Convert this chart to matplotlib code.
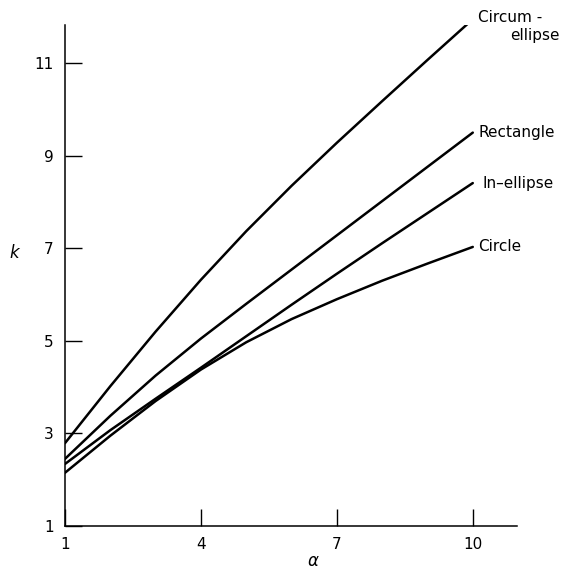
"""k versus a for four cross-section shapes."""

import matplotlib
matplotlib.use("Agg")
import matplotlib.pyplot as plt

a = [1, 2, 3, 4, 5, 6, 7, 8, 9, 10]
k_circum = [2.79, 4.02, 5.2, 6.32, 7.37, 8.35, 9.28, 10.18, 11.07, 11.95]
k_rect = [2.45, 3.38, 4.25, 5.05, 5.8, 6.54, 7.28, 8.02, 8.76, 9.5]
k_inell = [2.34, 3.07, 3.75, 4.42, 5.1, 5.78, 6.45, 7.11, 7.76, 8.41]
k_circle = [2.15, 2.95, 3.7, 4.38, 4.97, 5.47, 5.9, 6.3, 6.67, 7.03]

xticks = [1, 4, 7, 10]
yticks = [1, 3, 5, 7, 9, 11]

plt.rcParams["font.family"] = ["DejaVu Sans"]

fig = plt.figure(figsize=(5.64, 5.71), dpi=100)
ax = fig.add_axes([0.1152, 0.0788, 0.801, 0.877])

for k in (k_circum, k_rect, k_inell, k_circle):
    ax.plot(a, k, color="black", lw=1.8, solid_capstyle="round",
            solid_joinstyle="round")

ax.set_xlim(1, 10.97)
ax.set_ylim(1, 11.82)
ax.set_xticks(xticks)
ax.set_yticks(yticks)
ax.tick_params(direction="in", length=12, width=1.0, labelsize=11, pad=8)
for side in ("top", "right"):
    ax.spines[side].set_visible(False)
for side in ("left", "bottom"):
    ax.spines[side].set_linewidth(1.1)

ax.set_xlabel(r"$\alpha$", fontsize=12)
ax.xaxis.set_label_coords(0.549, -0.052)
ax.set_ylabel(r"$k$", fontsize=12, rotation=0)
ax.yaxis.set_label_coords(-0.11, 0.527)

kw = dict(textcoords="offset points", fontsize=11, va="center", ha="left",
          annotation_clip=False)
ax.annotate("Circum -", (a[-1], k_circum[-1]), xytext=(4, 1), **kw)
ax.annotate("ellipse", (a[-1], k_circum[-1]), xytext=(27, -12), **kw)
ax.annotate("Rectangle", (a[-1], k_rect[-1]), xytext=(4, 0), **kw)
ax.annotate("In\u2013ellipse", (a[-1], k_inell[-1]), xytext=(7, 0), **kw)
ax.annotate("Circle", (a[-1], k_circle[-1]), xytext=(4, 0), **kw)

fig.savefig("out.png", dpi=100)
